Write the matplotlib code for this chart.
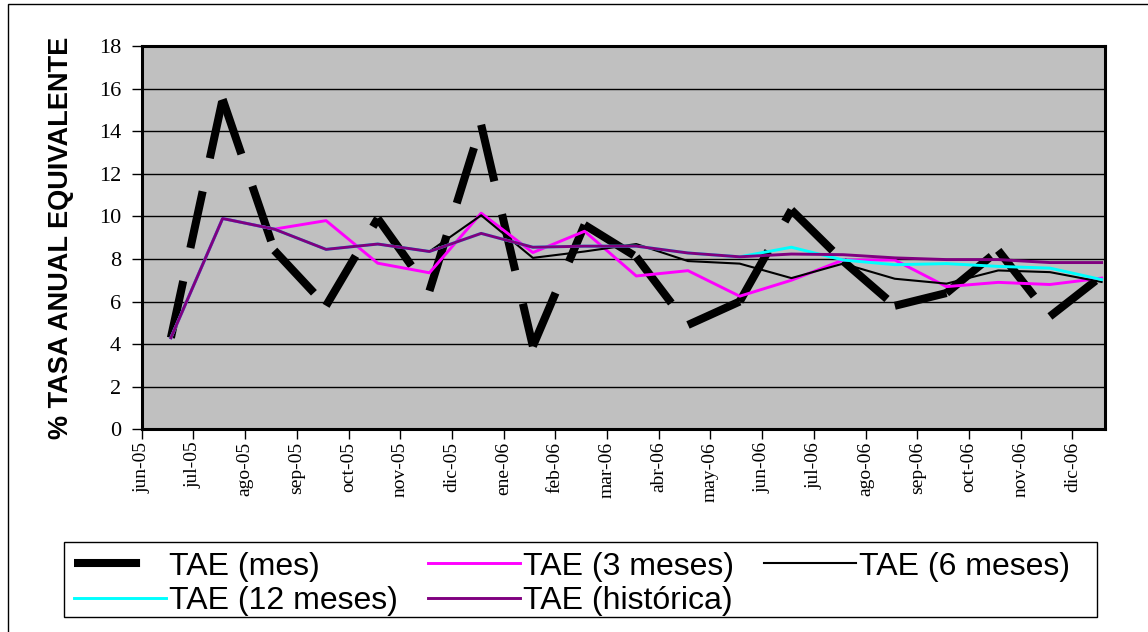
import matplotlib
matplotlib.use("Agg")
import matplotlib.pyplot as plt
from matplotlib.lines import Line2D
from matplotlib.patches import Rectangle
import numpy as np

months = ["jun-05", "jul-05", "ago-05", "sep-05", "oct-05", "nov-05", "dic-05",
          "ene-06", "feb-06", "mar-06", "abr-06", "may-06", "jun-06", "jul-06",
          "ago-06", "sep-06", "oct-06", "nov-06", "dic-06"]

tae_mes = [4.3, 15.5, 8.4, 5.8, 9.9, 6.5, 14.3, 3.9, 9.6, 8.1, 4.9, 6.0,
           10.3, 7.9, 5.8, 6.4, 8.4, 5.3, 7.2]
tae_3m = [4.3, 9.9, 9.4, 9.8, 7.8, 7.35, 10.15, 8.3, 9.3, 7.2, 7.45, 6.25,
          7.0, 7.95, 7.95, 6.7, 6.9, 6.8, 7.1]
tae_6m = [4.3, 9.9, 9.4, 8.45, 8.7, 8.35, 10.05, 8.05, 8.35, 8.7, 7.9, 7.78,
          7.1, 7.78, 7.07, 6.84, 7.46, 7.38, 6.92]
tae_12m = [4.3, 9.9, 9.4, 8.45, 8.7, 8.35, 9.2, 8.55, 8.6, 8.6, 8.28, 8.1,
           8.55, 7.95, 7.73, 7.78, 7.65, 7.57, 7.03]
tae_hist = [4.3, 9.9, 9.4, 8.45, 8.7, 8.35, 9.2, 8.55, 8.6, 8.6, 8.28, 8.1,
            8.23, 8.2, 8.05, 7.97, 7.97, 7.83, 7.83]

labels = ["TAE (mes)", "TAE (3 meses)", "TAE (6 meses)", "TAE (12 meses)", "TAE (histórica)"]

W, H = 1148, 632
fig = plt.figure(figsize=(W / 100, H / 100), dpi=100)
fig.patch.set_facecolor("white")

# chart-area frame
fig.patches.append(Rectangle((8 / W, -0.1), 1.2, 1 - 4 / H + 0.1, transform=fig.transFigure,
                             fill=False, edgecolor="black", linewidth=1.0))

ax = fig.add_axes([141.7 / W, 1 - 429.3 / H, (1105 - 141.7) / W, (429.3 - 46) / H])
ax.set_facecolor("#C0C0C0")

x = np.arange(len(months)) + 0.565  # data dated mid-month

LW_MES = 5.8
DASH = (7.2, 4.2)
# Excel restarts the long-dash pattern at every data point
for i in range(len(tae_mes) - 1):
    seg, = ax.plot(x[i:i + 2], tae_mes[i:i + 2], color="black", linewidth=LW_MES,
                   dash_capstyle="butt", solid_capstyle="butt")
    seg.set_dashes(DASH)
l2, = ax.plot(x, tae_3m, color="#FF00FF", linewidth=2.1)
l3, = ax.plot(x, tae_6m, color="black", linewidth=1.5)
l4, = ax.plot(x, tae_12m, color="#00FFFF", linewidth=2.1)
l5, = ax.plot(x, tae_hist, color="#800080", linewidth=2.1)

ax.set_xlim(0, 18.63)
ax.set_ylim(0, 18)
ax.set_yticks(np.arange(0, 19, 2))
ax.set_xticks(np.arange(len(months)))
ax.set_xticklabels(months, rotation=90, fontfamily="Liberation Serif", fontsize=14)
ax.set_yticklabels([str(v) for v in range(0, 19, 2)], fontfamily="Liberation Serif", fontsize=16)
ax.tick_params(axis="both", direction="out", length=7, width=1, color="black")
ax.tick_params(axis="x", pad=2)
ax.tick_params(axis="y", pad=8)
ax.yaxis.grid(True, color="black", linewidth=1)
ax.set_axisbelow(True)
for s in ax.spines.values():
    s.set_linewidth(2.2)
    s.set_color("black")

ax.set_ylabel("% TASA ANUAL EQUIVALENTE", fontfamily="Liberation Sans", fontweight="bold",
              fontsize=19.5, labelpad=18)

# legend proxy for the monthly series: a single long dash
h1 = Line2D([], [], color="black", linewidth=LW_MES, dash_capstyle="butt")
h1.set_dashes((8.2, 20))

handles = [h1, l4, l2, l5, l3]
order_labels = [labels[0], labels[3], labels[1], labels[4], labels[2]]
top = 1 - 542 / H
leg = fig.legend(handles, order_labels, ncol=3, loc="upper left",
                 bbox_to_anchor=(64 / W, top - 0.01, (1080 - 64) / W, 0.01),
                 mode="expand", borderaxespad=0, frameon=False,
                 handlelength=2.9, handletextpad=0.1,
                 columnspacing=1.0, labelspacing=0.15, borderpad=0.3,
                 prop={"family": "Liberation Sans", "size": 23})
# legend box (Excel leaves extra room on the right)
fig.patches.append(Rectangle((64 / W, 1 - 617 / H), (1097 - 64) / W, (617 - 542) / H,
                             transform=fig.transFigure, fill=False,
                             edgecolor="black", linewidth=1.0))

fig.savefig("out.png", dpi=100, facecolor="white")
